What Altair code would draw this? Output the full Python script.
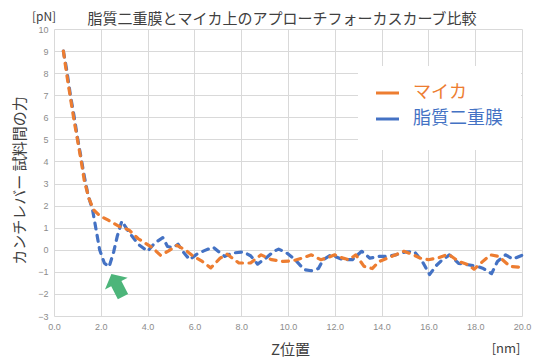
import altair as alt
import pandas as pd

# ---- data ----
x_mica = [0.4, 0.55, 0.7, 0.85, 1.0, 1.15, 1.3, 1.5, 1.7, 1.95, 2.3, 2.8, 3.2, 3.6, 4.2, 4.55,
          4.9, 5.25, 5.6, 5.9, 6.3, 6.7, 7.1, 7.4, 7.9, 8.4, 8.85, 9.3, 9.8, 10.2, 10.6, 11.0,
          11.4, 11.65, 12.0, 12.35, 12.6, 12.9, 13.25, 13.6, 13.9, 14.25, 14.6, 14.95, 15.3,
          15.65, 16.0, 16.45, 16.85, 17.3, 17.7, 17.95, 18.3, 18.65, 19.0, 19.5, 20.0]
y_mica = [9.0, 7.9, 6.9, 5.9, 5.0, 4.1, 3.1, 2.3, 1.8, 1.55, 1.35, 1.05, 0.9, 0.5, 0.1, -0.25,
          -0.05, 0.2, 0.0, -0.25, -0.5, -0.82, -0.38, -0.2, -0.6, -0.6, -0.23, -0.45, -0.53, -0.5,
          -0.38, -0.23, -0.45, -0.38, -0.23, -0.38, -0.45, -0.23, -0.75, -0.85, -0.53, -0.38,
          -0.23, -0.07, -0.2, -0.38, -0.45, -0.36, -0.2, -0.53, -0.68, -0.88, -0.55, -0.23,
          -0.3, -0.76, -0.8]

x_lipid = [0.4, 0.55, 0.7, 0.85, 1.0, 1.15, 1.3, 1.45, 1.65, 1.8, 1.95, 2.15, 2.35, 2.55, 2.7,
           2.9, 3.2, 3.6, 4.0, 4.3, 4.65, 4.85, 5.1, 5.3, 5.5, 5.8, 6.1, 6.4, 6.8, 7.05, 7.3,
           7.6, 8.1, 8.4, 8.7, 9.05, 9.4, 9.6, 9.95, 10.3, 10.7, 11.0, 11.3, 11.5, 11.85, 12.35,
           12.75, 13.15, 13.5, 13.9, 14.25, 14.6, 15.0, 15.4, 15.75, 16.05, 16.35, 16.55, 16.9,
           17.3, 17.7, 18.1, 18.35, 18.7, 18.95, 19.3, 19.6, 20.0]
y_lipid = [9.0, 8.1, 7.0, 6.1, 5.1, 4.2, 3.3, 2.5, 1.8, 0.9, 0.0, -0.6, -0.78, -0.1, 0.6,
           1.3, 0.8, 0.25, -0.07, 0.3, 0.55, 0.15, 0.1, 0.25, -0.07, -0.45, -0.2, -0.05, 0.12,
           -0.1, -0.3, -0.15, -0.1, -0.27, -0.65, -0.38, -0.07, 0.03, -0.15, -0.45, -0.9, -0.95,
           -0.85, -0.45, -0.23, -0.45, -0.45, -0.07, -0.38, -0.3, -0.3, -0.23, -0.1, -0.08,
           -0.55, -1.12, -0.7, -0.5, -0.23, -0.62, -0.68, -0.76, -0.85, -1.08, -0.53, -0.23,
           -0.42, -0.25]

series_names = ["マイカ", "脂質二重膜"]
series_colors = ["#ED7D31", "#4472C4"]
x_ticks = list(range(0, 21, 2))
y_ticks = list(range(-3, 11))
title_text = "脂質二重膜とマイカ上のアプローチフォーカスカーブ比較"
x_title = "Z位置"
y_title = "カンチレバー 試料間の力"
x_unit = "[nm]"
y_unit = "[pN]"

# arrow pointing at the dip of the lipid curve
arrow_x = [2.70]
arrow_y = [-1.61]

FONT = "Noto Sans CJK JP"
W, H = 468, 287

df_mica = pd.DataFrame({"x": x_mica, "y": y_mica})
df_lipid = pd.DataFrame({"x": x_lipid, "y": y_lipid})
df_arrow = pd.DataFrame({"x": arrow_x, "y": arrow_y})

xscale = alt.Scale(domain=[0, 20], nice=False)
yscale = alt.Scale(domain=[-3, 10], nice=False)

x_axis = alt.Axis(values=x_ticks, format=".1f", title=x_title,
                  titleX=236, titleY=33, titleBaseline="middle",
                  titleAlign="center", labelOverlap=False)
y_axis = alt.Axis(values=y_ticks, format="d", title=y_title,
                  titleX=-35, titleY=151, titleAngle=270,
                  titleBaseline="middle", titleAlign="center",
                  labelOverlap=False)

line_props = dict(strokeWidth=3.2, strokeDash=[6, 6.5], strokeCap="round",
                  strokeJoin="round", clip=False)

lipid = alt.Chart(df_lipid).mark_line(color=series_colors[1], **line_props).encode(
    x=alt.X("x:Q", scale=xscale, axis=x_axis),
    y=alt.Y("y:Q", scale=yscale, axis=y_axis))
mica = alt.Chart(df_mica).mark_line(color=series_colors[0], **line_props).encode(
    x=alt.X("x:Q", scale=xscale, axis=x_axis),
    y=alt.Y("y:Q", scale=yscale, axis=y_axis))

arrow_path = "M0,-1L1,-0.15L0.45,-0.15L0.45,1L-0.45,1L-0.45,-0.15L-1,-0.15Z"
arrow = alt.Chart(df_arrow).mark_point(
    shape=arrow_path, size=650, angle=333, filled=True, fill="#4DB57A",
    strokeWidth=0, opacity=1).encode(
    x=alt.X("x:Q", scale=xscale, axis=x_axis),
    y=alt.Y("y:Q", scale=yscale, axis=y_axis))

# legend box
legend_box = alt.Chart(pd.DataFrame({"a": [0]})).mark_rect(fill="white").encode(
    x=alt.value(304), x2=alt.value(467), y=alt.value(37), y2=alt.value(121))

legend_layers = []
for i, (name, col) in enumerate(zip(series_names, series_colors)):
    yy = 64 + i * 26
    d = pd.DataFrame({"name": [name]})
    legend_layers.append(
        alt.Chart(d).mark_rule(color=col, strokeWidth=3).encode(
            x=alt.value(322), x2=alt.value(345), y=alt.value(yy)))
    legend_layers.append(
        alt.Chart(d).mark_text(color=col, fontSize=18, font=FONT, align="left",
                               baseline="middle").encode(
            x=alt.value(359), y=alt.value(yy), text="name:N"))

units = alt.Chart(pd.DataFrame({"t": [y_unit, x_unit],
                                "px": [-10, 452], "py": [-12, 320],
                                "fs": [12, 13]})).mark_text(
    font=FONT, color="#404040", align="center", baseline="middle").encode(
    x=alt.X("px:Q", scale=None), y=alt.Y("py:Q", scale=None), text="t:N",
    size=alt.Size("fs:Q", scale=None, legend=None))

title = alt.Chart(pd.DataFrame({"t": [title_text]})).mark_text(
    fontSize=15, font=FONT, color="#404040", align="center", baseline="middle").encode(
    x=alt.value(228), y=alt.value(-10), text="t:N")

chart = alt.layer(lipid, mica, legend_box, *legend_layers, arrow, units, title).properties(
    width=W, height=H,
    autosize="none",
    padding={"left": 46, "top": 21, "right": 10, "bottom": 44},
    background="white",
).configure_view(stroke=None).configure_axis(
    grid=True, gridColor="#D9D9D9", gridWidth=1, domain=False, ticks=False,
    labelFont="Liberation Sans", labelFontSize=9, labelColor="#8C8C8C", labelPadding=6,
    labelOverlap=False, labelBound=False, labelFlush=False,
    titleFont=FONT, titleFontSize=15, titleColor="#404040", titleFontWeight="normal",
)

chart.save("out.html", embed_options={"renderer": "svg", "actions": False})
